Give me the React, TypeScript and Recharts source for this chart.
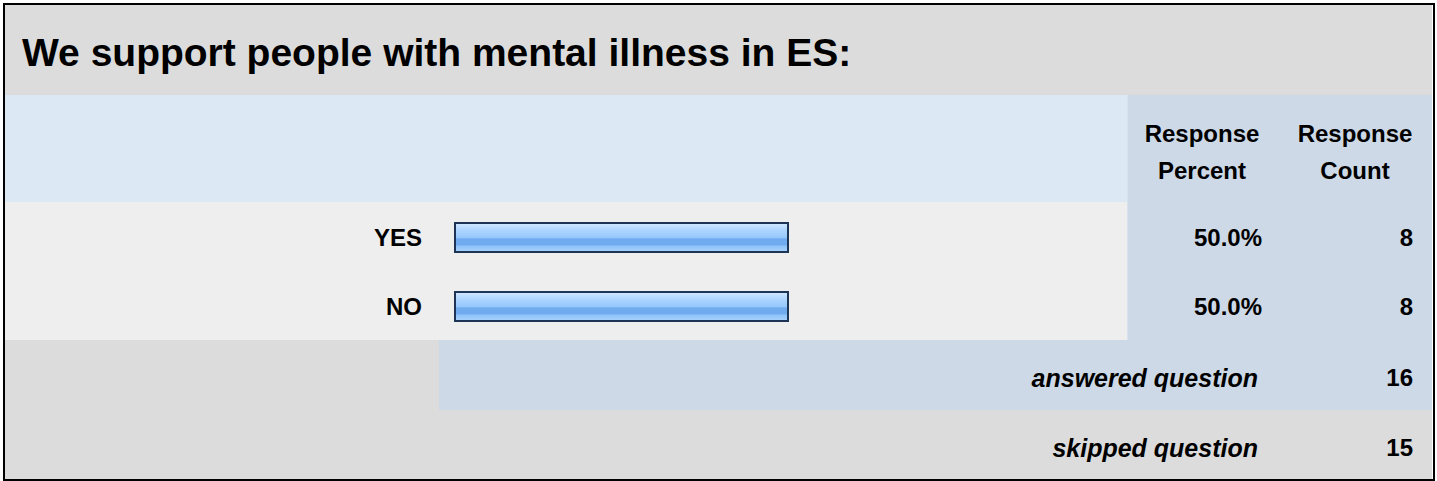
import { BarChart, Bar, XAxis, YAxis, LabelList } from 'recharts';

const TITLE = 'We support people with mental illness in ES:';
const CHOICES = ['YES', 'NO'];
const PERCENTS = [50.0, 50.0];
const COUNTS = [8, 8];
const HEADER_PERCENT = ['Response', 'Percent'];
const HEADER_COUNT = ['Response', 'Count'];
const SUMMARY_LABELS = ['answered question', 'skipped question'];
const SUMMARY_COUNTS = [16, 15];

const FONT = '"Liberation Sans", Arial, Helvetica, sans-serif';
const GRAY = '#dcdcdc';
const PALE = '#dde8f5';
const COL = '#cdd9e6';
const ROW = '#eeeeee';

const data = CHOICES.map((choice, i) => ({
  choice,
  percent: PERCENTS[i],
  percentLabel: PERCENTS[i].toFixed(1) + '%',
  count: COUNTS[i],
}));

// absolute box helper (page coordinates)
const box = (left: number, top: number, width: number, height: number, bg: string) => ({
  position: 'absolute' as const,
  left,
  top,
  width,
  height,
  background: bg,
});

const textStyle = {
  position: 'absolute' as const,
  fontFamily: FONT,
  fontWeight: 'bold' as const,
  color: '#000',
  whiteSpace: 'nowrap' as const,
};

const ChoiceTick = (props: any) => {
  const { x, y, payload } = props;
  return (
    <text x={x} y={y} dy={8.5} textAnchor="end" fontFamily={FONT} fontWeight="bold" fontSize={24} fill="#000">
      {payload.value}
    </text>
  );
};

const makeCell = (xPos: number) => (props: any) => {
  const vb = props.viewBox ?? props;
  const cy = vb.y + vb.height / 2;
  return (
    <text x={xPos} y={cy} dy={8} textAnchor="end" fontFamily={FONT} fontWeight="bold" fontSize={24} fill="#000">
      {props.value}
    </text>
  );
};

export default function App() {
  return (
    <div style={{ position: 'absolute', left: 0, top: 0, width: 1437, height: 481, background: '#fff', overflow: 'hidden' }}>
      {/* backgrounds */}
      <div style={box(5, 5, 1427, 90, GRAY)} />
      <div style={box(5, 95, 1122, 107, PALE)} />
      <div style={box(1127, 95, 305, 245, COL)} />
      <div style={box(1127, 95, 1, 245, '#d8e2ee')} />
      <div style={box(5, 202, 1122, 138, ROW)} />
      <div style={box(5, 340, 434, 70, GRAY)} />
      <div style={box(439, 340, 993, 70, COL)} />
      <div style={box(5, 410, 1427, 69, GRAY)} />
      <div
        style={{
          position: 'absolute',
          left: 3,
          top: 3,
          width: 1432,
          height: 478,
          border: '2px solid #000',
          boxSizing: 'border-box',
        }}
      />

      {/* title */}
      <div style={{ ...textStyle, left: 22, top: 30, fontSize: 39, lineHeight: '46px' }}>{TITLE}</div>

      {/* column headers */}
      <div style={{ ...textStyle, left: 1127, top: 115, width: 150, fontSize: 24, lineHeight: '37px', textAlign: 'center' }}>
        {HEADER_PERCENT[0]}
        <br />
        {HEADER_PERCENT[1]}
      </div>
      <div style={{ ...textStyle, left: 1280, top: 115, width: 150, fontSize: 24, lineHeight: '37px', textAlign: 'center' }}>
        {HEADER_COUNT[0]}
        <br />
        {HEADER_COUNT[1]}
      </div>

      {/* bars */}
      <div style={{ position: 'absolute', left: 5, top: 203 }}>
        <BarChart width={1427} height={138} data={data} layout="vertical" margin={{ top: 0, right: 311, bottom: 0, left: 0 }}>
          <defs>
            <linearGradient id="barGrad" x1="0" y1="0" x2="0" y2="1">
              <stop offset="0%" stopColor="#d2e8ff" />
              <stop offset="25%" stopColor="#add5ff" />
              <stop offset="50%" stopColor="#96c8fc" />
              <stop offset="55%" stopColor="#70abf0" />
              <stop offset="75%" stopColor="#70abf0" />
              <stop offset="80%" stopColor="#8fc3f9" />
              <stop offset="100%" stopColor="#a9d2fd" />
            </linearGradient>
          </defs>
          <XAxis type="number" domain={[0, 100]} hide />
          <YAxis
            type="category"
            dataKey="choice"
            width={450}
            axisLine={false}
            tickLine={false}
            tickSize={0}
            tickMargin={33}
            tick={<ChoiceTick />}
          />
          <Bar dataKey="percent" barSize={29} fill="url(#barGrad)" stroke="#1c3557" strokeWidth={2} isAnimationActive={false}>
            <LabelList dataKey="percentLabel" content={makeCell(1257)} />
            <LabelList dataKey="count" content={makeCell(1408)} />
          </Bar>
        </BarChart>
      </div>

      {/* summary rows */}
      {SUMMARY_LABELS.map((label, i) => (
        <div key={label}>
          <div
            style={{
              ...textStyle,
              right: 1437 - 1258,
              top: 363 + i * 70,
              fontSize: 25,
              lineHeight: '30px',
              fontStyle: 'italic',
            }}
          >
            {label}
          </div>
          <div style={{ ...textStyle, right: 1437 - 1413, top: 363 + i * 70, fontSize: 24, lineHeight: '30px' }}>
            {SUMMARY_COUNTS[i]}
          </div>
        </div>
      ))}
    </div>
  );
}
